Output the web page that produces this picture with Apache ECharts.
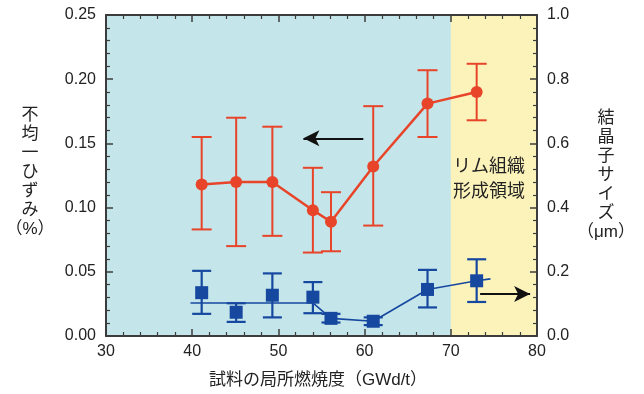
<!DOCTYPE html>
<html>
<head>
<meta charset="utf-8">
<script src="https://cdn.jsdelivr.net/npm/echarts@6/dist/echarts.min.js"></script>
<style>html,body{margin:0;padding:0;background:#fff}#c{width:644px;height:394px}</style>
</head>
<body>
<div id="c"></div>
<script>
// Data
const burnup = [41.1, 45.1, 49.3, 54.0, 56.1, 61.0, 67.3, 73.0];
const strain = [0.118, 0.120, 0.120, 0.098, 0.089, 0.132, 0.181, 0.190];
const strainLow = [0.083, 0.070, 0.078, 0.065, 0.066, 0.086, 0.155, 0.168];
const strainHigh = [0.155, 0.170, 0.163, 0.131, 0.112, 0.179, 0.207, 0.212];
const grain = [0.135, 0.074, 0.127, 0.121, 0.055, 0.046, 0.145, 0.172];
const grainLow = [0.069, 0.044, 0.058, 0.071, 0.042, 0.034, 0.089, 0.106];
const grainHigh = [0.203, 0.102, 0.195, 0.168, 0.069, 0.058, 0.206, 0.239];
const grainTrendX = [39.8, 54.0, 56.1, 61.0, 67.3, 73.0, 74.6];
const grainTrendY = [0.103, 0.103, 0.055, 0.046, 0.145, 0.172, 0.178];
const rimStart = 70;
const regionColors = ['#c4e5e9', '#fcf3bb'];
const regionLabel = 'リム組織\n形成領域';
const xName = '試料の局所燃焼度（GWd/t）';
const yLeftName = '不\n均\n一\nひ\nず\nみ\n（%）';
const yRightName = '結\n晶\n子\nサ\nイ\nズ\n（μm）';
const arrowLeft = [[59.85, 0.154], [52.9, 0.154]];
const arrowRight = [[73.4, 0.131], [79.2, 0.131]];

const RED = '#e8442a', BLUE = '#1748a0', AX = '#3c3c3c';
const FONT = '"Liberation Sans", "Noto Sans CJK JP", sans-serif';
const GRID = { left: 106, right: 107, top: 15, bottom: 58 };

const chart = echarts.init(document.getElementById('c'));

function errBar(color, capHalf, lw) {
  return function (params, api) {
    const x = api.value(0);
    const lo = api.coord([x, api.value(1)]);
    const hi = api.coord([x, api.value(2)]);
    const st = { stroke: color, lineWidth: lw };
    return {
      type: 'group',
      children: [
        { type: 'line', shape: { x1: lo[0], y1: lo[1], x2: hi[0], y2: hi[1] }, style: st },
        { type: 'line', shape: { x1: lo[0] - capHalf, y1: lo[1], x2: lo[0] + capHalf, y2: lo[1] }, style: st },
        { type: 'line', shape: { x1: hi[0] - capHalf, y1: hi[1], x2: hi[0] + capHalf, y2: hi[1] }, style: st }
      ]
    };
  };
}

function axisBase() {
  return {
    axisLine: { show: true, onZero: false, lineStyle: { color: AX, width: 2 } },
    axisTick: { show: true, inside: true, length: 7, lineStyle: { color: AX, width: 1.5 } },
    minorTick: { show: true, splitNumber: 5, length: 4, lineStyle: { color: AX, width: 1.2 } },
    splitLine: { show: false },
    axisLabel: { color: '#222', fontSize: 16, fontFamily: FONT }
  };
}

const markLineArrow = (pts) => ({
  silent: true, symbol: ['none', 'arrow'], symbolSize: [12, 16],
  label: { show: false },
  lineStyle: { color: '#111', width: 2, type: 'solid' },
  data: [[{ coord: pts[0] }, { coord: pts[1] }]]
});

chart.setOption({
  animation: false,
  grid: [
    Object.assign({ show: true, backgroundColor: regionColors[0], borderWidth: 0 }, GRID),
    Object.assign({}, GRID, { show: true, backgroundColor: regionColors[1], borderWidth: 0 })
  ],
  xAxis: [
    Object.assign(axisBase(), { type: 'value', min: 30, max: 80, interval: 10, position: 'bottom' }),
    Object.assign(axisBase(), { type: 'value', min: 30, max: 80, interval: 10, position: 'top' }),
    { type: 'value', gridIndex: 1, show: false, min: rimStart, max: 80 }
  ],
  yAxis: [
    Object.assign(axisBase(), { type: 'value', min: 0, max: 0.25, interval: 0.05, position: 'left' }),
    Object.assign(axisBase(), { type: 'value', min: 0, max: 1, interval: 0.2, position: 'right' }),
    { type: 'value', gridIndex: 1, show: false, min: 0, max: 1 }
  ],
  series: [
    {
      type: 'custom', name: 'strainErr', yAxisIndex: 0, z: 3,
      renderItem: errBar(RED, 10, 2),
      data: burnup.map((x, i) => [x, strainLow[i], strainHigh[i]])
    },
    {
      type: 'custom', name: 'grainErr', yAxisIndex: 1, z: 3,
      renderItem: errBar(BLUE, 9.5, 2.2),
      data: burnup.map((x, i) => [x, grainLow[i], grainHigh[i]])
    },
    {
      type: 'line', name: 'strain', yAxisIndex: 0, z: 4,
      data: burnup.map((x, i) => [x, strain[i]]),
      symbol: 'circle', symbolSize: 12,
      lineStyle: { color: RED, width: 2.5 }, itemStyle: { color: RED, opacity: 1 },
      markLine: markLineArrow(arrowLeft)
    },
    {
      type: 'line', name: 'grainTrend', yAxisIndex: 1, z: 4,
      data: grainTrendX.map((x, i) => [x, grainTrendY[i]]),
      showSymbol: false, symbol: 'none',
      lineStyle: { color: BLUE, width: 1.6 },
      markLine: markLineArrow(arrowRight)
    },
    {
      type: 'scatter', name: 'grain', yAxisIndex: 1, z: 5,
      data: burnup.map((x, i) => [x, grain[i]]),
      symbol: 'rect', symbolSize: 13, itemStyle: { color: BLUE, opacity: 1 }
    }
  ],
  graphic: [
    { type: 'text', left: 453, top: 155, z: 20, style: { text: regionLabel, fontSize: 18, lineHeight: 25, fill: '#222', fontFamily: FONT, textAlign: 'left' } },
    { type: 'text', x: 30, y: 106, style: { text: yLeftName, fontSize: 17, lineHeight: 19, fill: '#222', fontFamily: FONT, align: 'center', textAlign: 'center' } },
    { type: 'text', x: 606, y: 109, style: { text: yRightName, fontSize: 17, lineHeight: 19, fill: '#222', fontFamily: FONT, align: 'center', textAlign: 'center' } },
    { type: 'text', x: 318, y: 372, style: { text: xName, fontSize: 17, fill: '#222', fontFamily: FONT, textAlign: 'center' } }
  ]
});
// place the rim-region background grid using the library's own x scale
const rimPx = chart.convertToPixel({ xAxisIndex: 0 }, rimStart);
chart.setOption({
  grid: [{}, { left: rimPx }],
  xAxis: [{ axisLabel: { margin: 8 } }, { axisLabel: { show: false } }],
  yAxis: [{ axisLabel: { margin: 10, formatter: v => v.toFixed(2) } }, { axisLabel: { margin: 10, formatter: v => v.toFixed(1) } }]
});
</script>
</body>
</html>
